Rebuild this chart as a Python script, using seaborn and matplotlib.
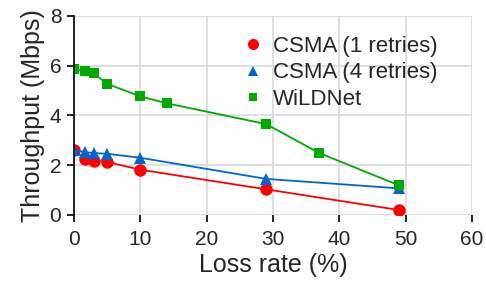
import matplotlib
matplotlib.use("Agg")
import matplotlib.pyplot as plt
import seaborn as sns
import pandas as pd

loss_csma1 = [0, 1.7, 3, 5, 10, 29, 49]
tput_csma1 = [2.61, 2.24, 2.18, 2.13, 1.82, 1.03, 0.2]
loss_csma4 = [0, 1.7, 3, 5, 10, 29, 49]
tput_csma4 = [2.62, 2.52, 2.49, 2.46, 2.3, 1.45, 1.07]
loss_wildnet = [0, 1.7, 3, 5, 10, 14, 29, 37, 49]
tput_wildnet = [5.85, 5.8, 5.69, 5.27, 4.77, 4.49, 3.65, 2.49, 1.19]

series = [
    ("CSMA (1 retries)", loss_csma1, tput_csma1, "#ff0000", "o", 9),
    ("CSMA (4 retries)", loss_csma4, tput_csma4, "#0066cc", "^", 8),
    ("WiLDNet", loss_wildnet, tput_wildnet, "#00aa00", "s", 7),
]

sns.set_style("white")
plt.rcParams["font.family"] = ["Liberation Sans", "DejaVu Sans"]

fig = plt.figure(figsize=(4.86, 2.84), dpi=100)
ax = fig.add_axes([0.152, 0.243, 0.819, 0.701])

for name, xs, ys, color, marker, size in series:
    df = pd.DataFrame({"loss": xs, "tput": ys})
    sns.lineplot(data=df, x="loss", y="tput", ax=ax, color=color, linewidth=1.3,
                 marker=marker, markersize=size, markeredgewidth=0, label=None)
    # legend entries show the marker only
    ax.plot([], [], linestyle="none", marker=marker, color=color,
            markersize=size - 1, markeredgewidth=0, label=name)

ax.set_xlim(0, 60)
ax.set_ylim(0, 8)
ax.set_xticks(range(0, 61, 10))
ax.set_yticks(range(0, 9, 2))
ax.grid(True, color="#d9d9d9", linewidth=1.2)
ax.set_axisbelow(True)
for side in ["top", "right", "bottom"]:
    ax.spines[side].set_visible(False)
ax.spines["left"].set_color("black")
ax.spines["left"].set_linewidth(1.2)
ax.tick_params(axis="both", length=5, width=1.2, color="black", labelsize=15,
               direction="out", bottom=True, left=True)
ax.tick_params(axis="x", pad=6)
ax.tick_params(axis="y", pad=4)
ax.set_xlabel("Loss rate (%)", fontsize=18, labelpad=3)
ax.set_ylabel("Throughput (Mbps)", fontsize=18, labelpad=3)

ax.legend(loc="upper right", bbox_to_anchor=(0.965, 1.0), frameon=False,
          fontsize=16, handlelength=0.8, handletextpad=0.5, labelspacing=0.25)

fig.savefig("out.png", dpi=100)
